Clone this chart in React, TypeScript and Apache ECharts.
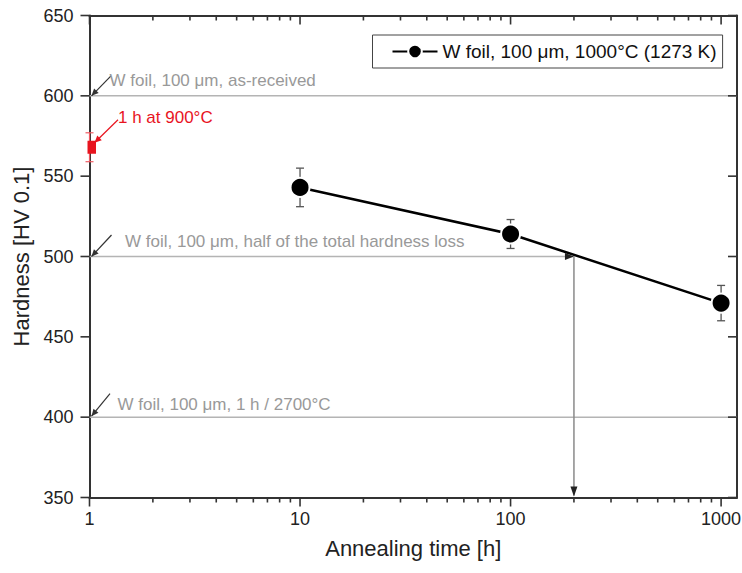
import React, { useEffect, useRef } from 'react';
import * as echarts from 'echarts';

// Axis ranges
const X_MIN = 1;
const X_MAX = 1190;
const Y_MIN = 350;
const Y_MAX = 650;
const Y_STEP = 50;

// Main series: W foil annealed at 1000 °C
const seriesName = 'W foil, 100 μm, 1000°C (1273 K)';
const annealTime = [10, 100, 1000];
const hardness = [543, 514, 471];
const hardnessErr = [12, 9, 11];

// Single short anneal point
const shortAnnealTime = [1];
const shortAnnealHardness = [568];
const shortAnnealErr = [9];
const shortAnnealLabel = '1 h at 900°C';

// Reference hardness levels
const refHardness = [600, 500, 400];
const refLabels = [
  'W foil, 100 μm, as-received',
  'W foil, 100 μm, half of the total hardness loss',
  'W foil, 100 μm, 1 h / 2700°C',
];
const refEndTime = [X_MAX, 200, X_MAX];

// Time at which half of the hardness loss is reached
const halfLossTime = [200];
const halfLossHardness = [500];

// Axis ticks
const majorTicks = [1, 10, 100, 1000];
const minorTicks = [
  2, 3, 4, 5, 6, 7, 8, 9,
  20, 30, 40, 50, 60, 70, 80, 90,
  200, 300, 400, 500, 600, 700, 800, 900,
];
const yTicks = [350, 400, 450, 500, 550, 600, 650];

// Layout of the annotation labels (pixel offsets from the anchor point)
const refTextOffset = [[20, -15.5], [35.5, -15.5], [28, -13]];
const refPointerTip = [[2, 0], [2, 0], [2, -1]];
const refPointerTail = [[21.5, -20], [22, -21.5], [20.5, -23.5]];
const redTextOffset = [28.5, -29.5];
const redPointerTip = [5, -4.5];
const redPointerTail = [28.5, -27.5];

const FONT = '"Liberation Sans", Arial, Helvetica, sans-serif';
const AXIS_COLOR = '#333';
const GUIDE_COLOR = '#b4b4b4';
const NOTE_COLOR = '#999';
const RED = '#e8141e';
const MAJOR_LEN = 9;
const MINOR_LEN = 5;
const TICK_W = 1.6;

function arrowHead(tip: number[], from: number[], len: number, half: number, color: string) {
  const dx = tip[0] - from[0];
  const dy = tip[1] - from[1];
  const d = Math.hypot(dx, dy) || 1;
  const ux = dx / d;
  const uy = dy / d;
  const bx = tip[0] - ux * len;
  const by = tip[1] - uy * len;
  return {
    type: 'polygon',
    shape: {
      points: [
        [tip[0], tip[1]],
        [bx - uy * half, by + ux * half],
        [bx + uy * half, by - ux * half],
      ],
    },
    style: { fill: color },
  };
}

function pointer(anchor: number[], tipOff: number[], tailOff: number[], color: string) {
  const tip = [anchor[0] + tipOff[0], anchor[1] + tipOff[1]];
  const tail = [anchor[0] + tailOff[0], anchor[1] + tailOff[1]];
  return [
    {
      type: 'line',
      shape: { x1: tail[0], y1: tail[1], x2: tip[0], y2: tip[1] },
      style: { stroke: color, lineWidth: 1.2 },
    },
    arrowHead(tip, tail, 7, 3.2, color),
  ];
}

// Tick marks as thin filled bars
function vTick(x: number, y0: number, len: number) {
  return {
    type: 'rect',
    shape: { x: x - TICK_W / 2, y: Math.min(y0, y0 + len), width: TICK_W, height: Math.abs(len) },
    style: { fill: AXIS_COLOR },
  };
}

function hTick(y: number, x0: number, len: number) {
  return {
    type: 'rect',
    shape: { x: Math.min(x0, x0 + len), y: y - TICK_W / 2, width: Math.abs(len), height: TICK_W },
    style: { fill: AXIS_COLOR },
  };
}

// All frame ticks: outward on bottom/left, inward on top/right
function renderFrameTicks(params: any, api: any) {
  const lo = api.coord([X_MIN, Y_MIN]);
  const hi = api.coord([X_MAX, Y_MAX]);
  const left = lo[0];
  const bottom = lo[1];
  const right = hi[0];
  const top = hi[1];
  const children: any[] = [];
  majorTicks.forEach((t) => {
    const x = api.coord([t, Y_MIN])[0];
    children.push(vTick(x, bottom, MAJOR_LEN));
    children.push(vTick(x, top, MAJOR_LEN));
  });
  minorTicks.forEach((t) => {
    const x = api.coord([t, Y_MIN])[0];
    children.push(vTick(x, bottom, MINOR_LEN));
    children.push(vTick(x, top, MINOR_LEN));
  });
  yTicks.forEach((v) => {
    const y = api.coord([X_MIN, v])[1];
    children.push(hTick(y, left, -MAJOR_LEN));
    children.push(hTick(y, right, -MAJOR_LEN));
  });
  return { type: 'group', children };
}

export default function App() {
  const ref = useRef<HTMLDivElement>(null);

  useEffect(() => {
    if (!ref.current) return;
    const chart = echarts.init(ref.current, undefined, { renderer: 'svg' });

    const logAxisBase = {
      type: 'log' as const,
      logBase: 10,
      min: X_MIN,
      max: X_MAX,
      gridIndex: 0,
      splitLine: { show: false },
      axisTick: { show: false },
    };

    const option: any = {
      animation: false,
      backgroundColor: '#ffffff',
      textStyle: { fontFamily: FONT },
      grid: {
        left: 89.5,
        right: 5,
        top: 15.5,
        bottom: 75.5,
        containLabel: false,
        outerBoundsMode: 'none',
      },
      legend: {
        data: [seriesName],
        left: 372.5,
        top: 35,
        orient: 'vertical',
        padding: [7, 6, 7, 19],
        borderColor: '#444',
        borderWidth: 1,
        itemWidth: 45,
        itemHeight: 17,
        textStyle: { fontSize: 19, color: '#111', fontFamily: FONT },
        selectedMode: false,
      },
      xAxis: [
        {
          ...logAxisBase,
          position: 'bottom',
          name: 'Annealing time [h]',
          nameLocation: 'middle',
          nameGap: 40,
          nameTextStyle: { fontSize: 22, color: '#222', fontFamily: FONT },
          axisLine: { show: true, lineStyle: { color: AXIS_COLOR, width: 2 } },
          axisLabel: {
            show: true,
            customValues: majorTicks,
            margin: 12,
            fontSize: 18,
            color: '#222',
            fontFamily: FONT,
            formatter: (v: number) => String(Math.round(v)),
          },
        },
        {
          ...logAxisBase,
          position: 'top',
          axisLine: { show: true, lineStyle: { color: AXIS_COLOR, width: 2 } },
          axisLabel: { show: false },
        },
      ],
      yAxis: [
        {
          type: 'value',
          min: Y_MIN,
          max: Y_MAX,
          interval: Y_STEP,
          position: 'left',
          splitLine: { show: false },
          name: 'Hardness [HV 0.1]',
          nameLocation: 'middle',
          nameRotate: 90,
          nameGap: 56,
          nameTextStyle: { fontSize: 22, color: '#222', fontFamily: FONT },
          axisLine: { show: true, lineStyle: { color: AXIS_COLOR, width: 2 } },
          axisTick: { show: false },
          axisLabel: { show: true, margin: 16, fontSize: 18, color: '#222', fontFamily: FONT },
        },
        {
          type: 'value',
          min: Y_MIN,
          max: Y_MAX,
          interval: Y_STEP,
          position: 'right',
          splitLine: { show: false },
          axisLine: { show: true, lineStyle: { color: AXIS_COLOR, width: 2 } },
          axisTick: { show: false },
          axisLabel: { show: false },
        },
      ],
      series: [
        // Frame ticks of both axes
        {
          type: 'custom',
          name: 'frame ticks',
          silent: true,
          z: 6,
          encode: { x: 0, y: 1 },
          data: [[halfLossTime[0], halfLossHardness[0]]],
          renderItem: renderFrameTicks,
        },
        // Reference levels with their pointer labels
        {
          type: 'custom',
          name: 'reference levels',
          silent: true,
          z: 1,
          encode: { x: 0, y: 1 },
          data: refHardness.map((hv, i) => [refEndTime[i], hv]),
          renderItem: (params: any, api: any) => {
            const i = params.dataIndex;
            const end = api.value(0);
            const hv = api.value(1);
            const p0 = api.coord([X_MIN, hv]);
            const p1 = api.coord([end, hv]);
            const children: any[] = [
              {
                type: 'line',
                shape: { x1: p0[0], y1: p0[1], x2: p1[0], y2: p1[1] },
                style: { stroke: GUIDE_COLOR, lineWidth: 1.5 },
              },
              ...pointer(p0, refPointerTip[i], refPointerTail[i], '#333'),
              {
                type: 'text',
                x: p0[0] + refTextOffset[i][0],
                y: p0[1] + refTextOffset[i][1],
                style: {
                  text: refLabels[i],
                  fill: NOTE_COLOR,
                  fontSize: 17,
                  fontFamily: FONT,
                  align: 'left',
                  verticalAlign: 'middle',
                },
              },
            ];
            if (end < X_MAX) {
              children.push(arrowHead(p1, p0, 9, 3.5, '#222'));
            }
            return { type: 'group', children };
          },
        },
        // Drop line from the half-loss level to the time axis
        {
          type: 'custom',
          name: 'half loss time',
          silent: true,
          z: 1,
          encode: { x: 0, y: 1 },
          data: halfLossTime.map((t, i) => [t, halfLossHardness[i]]),
          renderItem: (params: any, api: any) => {
            const t = api.value(0);
            const top = api.coord([t, api.value(1)]);
            const bottom = api.coord([t, Y_MIN]);
            return {
              type: 'group',
              children: [
                {
                  type: 'line',
                  shape: { x1: top[0], y1: top[1], x2: bottom[0], y2: bottom[1] - 2 },
                  style: { stroke: '#8a8a8a', lineWidth: 1.5 },
                },
                arrowHead([bottom[0], bottom[1] - 1], top, 10, 3.5, '#222'),
              ],
            };
          },
        },
        // Error bars of the main series
        {
          type: 'custom',
          name: 'error bars',
          silent: true,
          z: 2,
          encode: { x: 0, y: 1 },
          data: annealTime.map((t, i) => [t, hardness[i], hardnessErr[i]]),
          renderItem: (params: any, api: any) => {
            const x = api.value(0);
            const y = api.value(1);
            const e = api.value(2);
            const hi = api.coord([x, y + e]);
            const lo = api.coord([x, y - e]);
            const w = 4;
            const style = { stroke: '#555', lineWidth: 1.3 };
            return {
              type: 'group',
              children: [
                { type: 'line', shape: { x1: hi[0], y1: hi[1], x2: lo[0], y2: lo[1] }, style },
                { type: 'line', shape: { x1: hi[0] - w, y1: hi[1], x2: hi[0] + w, y2: hi[1] }, style },
                { type: 'line', shape: { x1: lo[0] - w, y1: lo[1], x2: lo[0] + w, y2: lo[1] }, style },
              ],
            };
          },
        },
        // Main series
        {
          type: 'line',
          name: seriesName,
          z: 5,
          data: annealTime.map((t, i) => [t, hardness[i]]),
          symbol: 'circle',
          symbolSize: 19,
          itemStyle: { color: '#000', borderColor: '#fff', borderWidth: 2 },
          lineStyle: { color: '#000', width: 2.5 },
          emphasis: { disabled: true },
        },
        // Short anneal point, clipped at the plot edge, with its label
        {
          type: 'custom',
          name: shortAnnealLabel,
          silent: true,
          z: 4,
          encode: { x: 0, y: 1 },
          data: shortAnnealTime.map((t, i) => [t, shortAnnealHardness[i], shortAnnealErr[i]]),
          renderItem: (params: any, api: any) => {
            const x = api.value(0);
            const y = api.value(1);
            const e = api.value(2);
            const c = api.coord([x, y]);
            const hi = api.coord([x, y + e]);
            const lo = api.coord([x, y - e]);
            const left = params.coordSys.x;
            const half = 6.5;
            const x0 = Math.max(c[0] - half, left - 2);
            const w = 4;
            const errStyle = { stroke: '#ef5a62', lineWidth: 1.2 };
            return {
              type: 'group',
              children: [
                { type: 'line', shape: { x1: hi[0], y1: hi[1], x2: lo[0], y2: lo[1] }, style: errStyle },
                { type: 'line', shape: { x1: hi[0] - w, y1: hi[1], x2: hi[0] + w, y2: hi[1] }, style: errStyle },
                { type: 'line', shape: { x1: lo[0] - w, y1: lo[1], x2: lo[0] + w, y2: lo[1] }, style: errStyle },
                {
                  type: 'rect',
                  shape: { x: x0, y: c[1] - half, width: c[0] + half - x0, height: half * 2 },
                  style: { fill: RED },
                },
                ...pointer(c, redPointerTip, redPointerTail, RED),
                {
                  type: 'text',
                  x: c[0] + redTextOffset[0],
                  y: c[1] + redTextOffset[1],
                  style: {
                    text: shortAnnealLabel,
                    fill: RED,
                    fontSize: 17,
                    fontFamily: FONT,
                    align: 'left',
                    verticalAlign: 'middle',
                  },
                },
              ],
            };
          },
        },
      ],
    };

    chart.setOption(option);
    return () => {
      chart.dispose();
    };
  }, []);

  return (
    <div
      ref={ref}
      style={{ position: 'fixed', left: 0, top: 0, width: 742, height: 573, background: '#fff' }}
    />
  );
}
